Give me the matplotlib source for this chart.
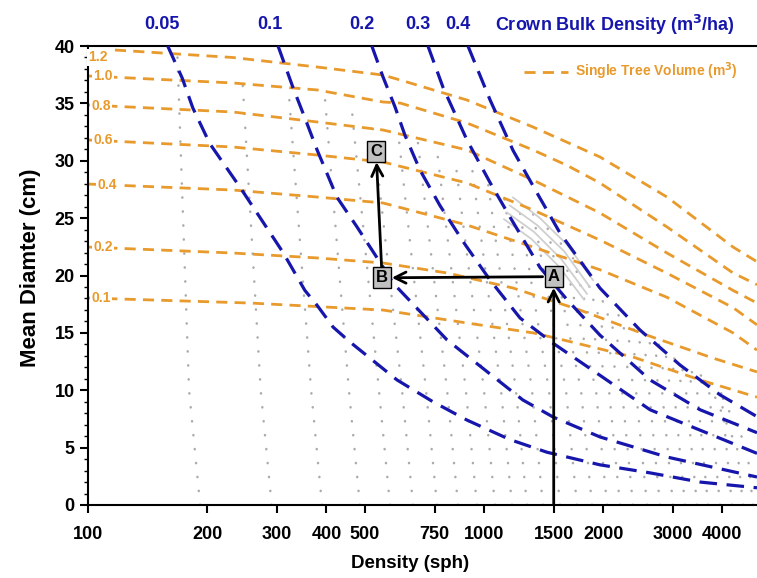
import matplotlib
matplotlib.use("Agg")
import matplotlib.pyplot as plt
from matplotlib.lines import Line2D

plt.rcParams["font.family"] = ["Liberation Sans", "DejaVu Sans"]
plt.rcParams["font.weight"] = "bold"

# stand trajectories (grey dots): start density, density at mid diameter, end point
traj_n0 = [192, 291, 390, 486, 579, 662, 761, 860, 960, 1066, 1177, 1284, 1409, 1556, 1717,
           1874, 2045, 2205, 2378, 2580, 2782, 3002, 3218, 3451, 3679, 3945, 4229, 4510, 4778]
traj_nmid = [180, 273, 366, 456, 543, 621, 714, 807, 900, 1000, 1104, 1204, 1322, 1459, 1611,
             1758, 1918, 2069, 2231, 2420, 2611, 2815, 3019, 3236, 3451, 3700, 3966, 4355, 4614]
traj_dmid = [10, 10, 10, 10, 10, 10, 10, 10, 10, 10, 10, 10, 10, 10, 10,
             10, 10, 10, 10, 10, 10, 10, 10, 10, 10, 10, 10, 5, 5]
traj_ntop = [168, 245, 322, 397, 464, 521, 607, 681, 761, 845, 932, 1018, 1117, 1219, 1330,
             1442, 1556, 1678, 1810, 1963, 2142, 2337, 2551, 2751, 2949, 3181, 3431, 3679, 3920]
traj_dtop = [39.7, 37.6, 35.6, 35.3, 34.4, 33.7, 32.5, 31.6, 30.9, 30.2, 29.5, 28.7, 27.6, 26.5, 25.4,
             24.4, 23.1, 21.5, 19.9, 18.4, 17.3, 16.0, 14.9, 14.1, 13.3, 12.4, 11.6, 10.8, 10.0]

# self-thinning band (crowded trajectory ends)
band_n = [[1184, 1385, 1620, 1885], [1163, 1361, 1595, 1850],
          [1143, 1338, 1570, 1820], [1124, 1316, 1545, 1789]]
band_d = [[26.8, 25.0, 22.7, 19.6], [26.1, 24.4, 22.1, 19.0],
          [25.5, 23.8, 21.4, 18.4], [24.9, 23.2, 20.8, 17.9]]

# single tree volume (m3)
vol_labels = ["1.2", "1.0", "0.8", "0.6", "0.4", "0.2", "0.1"]
vol_n = [
    [117, 232, 379, 556, 614, 906, 1330, 1963, 2898, 4255, 4891],
    [100, 232, 379, 556, 614, 906, 1330, 1620, 1963, 2898, 4255, 4891],
    [100, 232, 379, 556, 906, 1330, 1963, 2898, 4255, 4891],
    [100, 232, 379, 556, 906, 1330, 1963, 2898, 4255, 4891],
    [100, 232, 379, 556, 906, 1330, 1963, 2898, 4255, 4891],
    [100, 232, 379, 556, 807, 1184, 1747, 2580, 3787, 4891],
    [100, 257, 556, 906, 1330, 1494, 2378, 3512, 4891],
]
vol_d = [
    [39.65, 39.0, 38.17, 37.47, 37.04, 35.29, 32.94, 30.33, 26.84, 22.48, 21.2],
    [37.39, 36.78, 36.17, 35.12, 35.03, 33.29, 30.94, 29.6, 28.06, 24.23, 20.22, 19.2],
    [34.86, 34.25, 33.38, 32.68, 30.94, 28.32, 25.45, 21.96, 18.7, 17.6],
    [31.81, 31.2, 30.5, 29.89, 28.06, 25.71, 23.09, 20.2, 17.2, 15.7],
    [27.97, 27.45, 26.84, 26.32, 24.4, 22.48, 20.5, 18.1, 15.0, 13.5],
    [22.48, 21.96, 21.53, 21.09, 20.22, 18.91, 16.99, 14.8, 12.8, 11.6],
    [18.04, 17.6, 16.99, 15.86, 15.0, 14.6, 12.9, 10.9, 9.4],
]
vol_lab_n = [106, 109, 108, 109, 112, 109, 108]
vol_lab_d = [39.0, 37.4, 34.8, 31.8, 27.9, 22.5, 18.0]

# crown bulk density (m3/ha)
cbd_labels = ["0.05", "0.1", "0.2", "0.3", "0.4"]
cbd_n = [
    [159, 173, 184, 203, 242, 311, 353, 379, 416, 459, 524, 603, 743, 906, 1163, 1442, 1963, 2626, 3512, 4891],
    [302, 329, 353, 379, 401, 425, 478, 556, 589, 807, 1254, 1494, 1963, 2898, 4891],
    [521, 556, 596, 632, 689, 774, 896, 1036, 1233, 1494, 1963, 2626, 4891],
    [722, 788, 906, 1036, 1163, 1385, 1620, 1963, 2626, 3512, 4891],
    [911, 1036, 1184, 1361, 1556, 1963, 2477, 3126, 3945, 4891],
]
cbd_d = [
    [40, 37.2, 34.6, 31.5, 27.7, 22.0, 18.7, 17.4, 15.5, 14.2, 12.6, 10.9, 9.0, 7.4, 5.7, 4.6, 3.5, 2.8, 2.0, 1.5],
    [40, 36.43, 33.73, 30.94, 28.93, 26.84, 24.23, 20.74, 19.35, 14.38, 9.15, 7.67, 5.93, 4.18, 2.44],
    [40, 37.3, 34.7, 32.2, 29.2, 26.1, 22.7, 19.6, 16.3, 14.1, 11.3, 8.3, 4.5],
    [40, 36.4, 31.8, 28.1, 25.1, 20.7, 17.9, 14.8, 10.9, 8.3, 6.3],
    [40, 35.3, 30.9, 27.2, 23.7, 18.9, 15.25, 12.2, 9.6, 7.7],
]
cbd_lab_n = [154, 288, 492, 681, 860]

# management path A -> B -> C
path_names = ["A", "B", "C"]
path_n = [1500, 553, 534]
path_d = [19.9, 19.8, 30.85]

xticks = [100, 200, 300, 400, 500, 750, 1000, 1500, 2000, 3000, 4000]

orange = "#e89a2c"
blue = "#1616ac"
grey = "#ababab"

fig = plt.figure(figsize=(7.57, 5.78), dpi=100)
ax = fig.add_axes([0.1162, 0.1263, 0.8838, 0.7941])
ax.set_xscale("log")
ax.set_xlim(100, 4891)
ax.set_ylim(0, 40)

for i in range(len(traj_n0)):
    ax.plot([traj_n0[i], traj_nmid[i], traj_ntop[i]], [0, traj_dmid[i], traj_dtop[i]],
            color=grey, lw=1.8, linestyle=(0, (0.1, 5.5)), dash_capstyle="round", zorder=1)
for bn, bd in zip(band_n, band_d):
    ax.plot(bn, bd, color="#cfcfcf", lw=1.3, zorder=1)

for n, d in zip(vol_n, vol_d):
    ax.plot(n, d, color=orange, lw=2, linestyle=(0, (4, 2.6)), zorder=2)
for lab, n, d in zip(vol_labels, vol_lab_n, vol_lab_d):
    ax.text(n, d, lab, color=orange, fontsize=10, ha="center", va="center", zorder=3,
            bbox=dict(boxstyle="square,pad=0.1", fc="white", ec="none"))

for n, d in zip(cbd_n, cbd_d):
    ax.plot(n, d, color=blue, lw=2.3, linestyle=(0, (5.5, 3)), zorder=3)
for lab, n in zip(cbd_labels, cbd_lab_n):
    ax.text(n, 1.046, lab, color=blue, fontsize=13, ha="center", va="center",
            transform=ax.get_xaxis_transform())
ax.text(0.788, 1.046, "Crown Bulk Density (m$^\\mathbf{3}$/ha)", color=blue, fontsize=13,
        ha="center", va="center", transform=ax.transAxes)

# arrows
arrow = dict(arrowstyle="->", color="black", lw=2, mutation_scale=20)
ax.annotate("", xy=(path_n[0], path_d[0]), xytext=(path_n[0], 0),
            arrowprops=dict(arrow, shrinkA=0, shrinkB=8), zorder=5)
ax.annotate("", xy=(path_n[1], path_d[1]), xytext=(path_n[0], path_d[0]),
            arrowprops=dict(arrow, shrinkA=8, shrinkB=7), zorder=5)
ax.annotate("", xy=(path_n[2], path_d[2]), xytext=(path_n[1], path_d[1]),
            arrowprops=dict(arrow, shrinkA=8, shrinkB=8), zorder=5)
for name, n, d in zip(path_names, path_n, path_d):
    ax.text(n, d, name, fontsize=12, ha="center", va="center", zorder=6,
            bbox=dict(boxstyle="square,pad=0.18", fc="#c0c0c0", ec="black", lw=1))

leg = ax.legend(handles=[Line2D([], [], color=orange, lw=2, linestyle=(0, (4, 2.6)))],
                labels=["Single Tree Volume (m$^\\mathbf{3}$)"], loc="upper right",
                bbox_to_anchor=(0.99, 0.995), frameon=False, handlelength=3.2, handletextpad=0.5,
                prop=dict(size=10, weight="bold"), labelcolor=orange)

ax.spines["right"].set_visible(False)
for s in ["top", "left", "bottom"]:
    ax.spines[s].set_linewidth(1.5)
ax.set_xticks(xticks)
ax.set_xticklabels([str(t) for t in xticks])
ax.xaxis.set_minor_locator(matplotlib.ticker.NullLocator())
ax.set_yticks(range(0, 41, 5))
ax.yaxis.set_minor_locator(matplotlib.ticker.MultipleLocator(1))
ax.tick_params(axis="both", which="major", labelsize=13, length=6, width=1.5, direction="out")
ax.tick_params(axis="y", which="minor", length=3, width=1)
ax.tick_params(axis="x", pad=9)
ax.set_xlabel("Density (sph)", fontsize=13.5, fontweight="bold")
ax.xaxis.set_label_coords(0.481, -0.11)
ax.set_ylabel("Mean Diamter (cm)", fontsize=16, fontweight="bold")
ax.yaxis.set_label_coords(-0.07, 0.516)

fig.savefig("out.png", dpi=100)
